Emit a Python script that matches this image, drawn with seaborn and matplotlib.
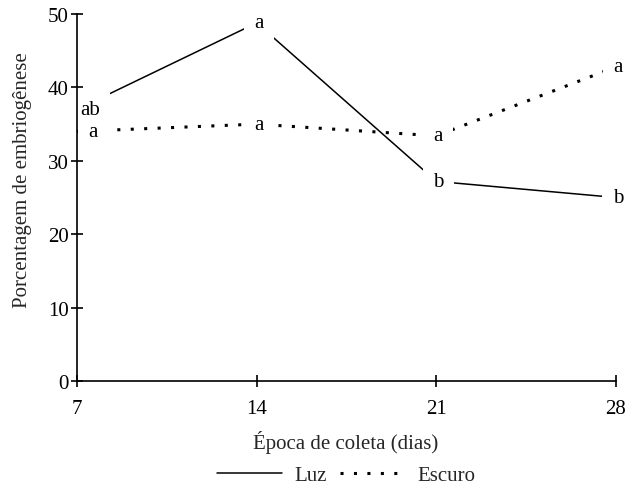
import matplotlib
matplotlib.use("Agg")
import matplotlib.pyplot as plt
from matplotlib.lines import Line2D
import seaborn as sns
import pandas as pd

# Collection time (days) and embryogenesis percentage per treatment
dias = [7, 14, 21, 28]
luz = [37.0, 48.8, 27.2, 25.0]
escuro = [34.0, 35.0, 33.4, 42.8]
letras_luz = ["ab", "a", "b", "b"]
letras_escuro = ["a", "a", "a", "a"]
tratamentos = ["Luz", "Escuro"]

df = pd.DataFrame({
    "dias": dias * 2,
    "valor": luz + escuro,
    "trat": [tratamentos[0]] * len(dias) + [tratamentos[1]] * len(dias),
})

sns.set_theme(style="white")
plt.rcParams["font.family"] = ["Liberation Serif", "DejaVu Serif"]
FS = 15
plt.rcParams["font.size"] = FS

fig = plt.figure(figsize=(6.26, 4.85), dpi=100)
ax = fig.add_axes([0.123, 0.2124, 0.861, 0.7566])

dot = (0, (1.0, 3.4))
sns.lineplot(data=df[df.trat == "Luz"], x="dias", y="valor", ax=ax,
             color="black", lw=1.1, legend=False, zorder=2)
sns.lineplot(data=df[df.trat == "Escuro"], x="dias", y="valor", ax=ax,
             color="black", lw=2.2, legend=False, zorder=2)
ax.lines[1].set_linestyle(dot)
ax.lines[1].set_dash_capstyle("butt")

# Significance letters: white boxes break the lines, letters drawn on top
box = dict(boxstyle="square,pad=0.5", fc="white", ec="none")
primeiro = {"Luz": 13, "Escuro": 16}
for nome, serie, letras in (("Luz", luz, letras_luz),
                            ("Escuro", escuro, letras_escuro)):
    for i, (x, y, t) in enumerate(zip(dias, serie, letras)):
        dx = primeiro[nome] if i == 0 else 2
        kw = dict(xytext=(dx, 0), textcoords="offset pixels", ha="center",
                  va="center", fontsize=FS, annotation_clip=False)
        ax.annotate(t, (x, y), color="none", bbox=box, zorder=3, **kw)
        ax.annotate(t, (x, y), color="black", zorder=4, **kw)

ax.set_xlim(7, 28)
ax.set_ylim(0, 50)
ax.set_xticks(dias)
ax.set_yticks([0, 10, 20, 30, 40, 50])
ax.set_xlabel("Época de coleta (dias)", fontsize=FS)
ax.set_ylabel("Porcentagem de embriogênese", fontsize=FS)
ax.xaxis.set_label_coords(0.499, -0.166)
ax.xaxis.label.set_va("center")
ax.yaxis.set_label_coords(-0.102, 0.55)
ax.yaxis.label.set_va("center")

for s in ("top", "right"):
    ax.spines[s].set_visible(False)
for s in ("left", "bottom"):
    ax.spines[s].set_color("black")
    ax.spines[s].set_linewidth(1.2)
    ax.spines[s].set_zorder(5)
ax.tick_params(axis="both", which="major", direction="inout", length=8,
               width=1.2, color="black", labelsize=FS, labelcolor="black",
               left=True, bottom=True)
ax.tick_params(axis="x", pad=9)
ax.tick_params(axis="y", pad=2)

handles = [
    Line2D([], [], color="black", lw=1.1),
    Line2D([], [], color="black", lw=2.2, linestyle=dot, dash_capstyle="butt"),
]
fig.legend(handles, tratamentos, loc="center", bbox_to_anchor=(0.553, 0.018),
           ncol=2, frameon=False, fontsize=FS, handlelength=3.1,
           columnspacing=0.62, handletextpad=0.62, borderpad=0)

fig.savefig("out.png", dpi=100)
